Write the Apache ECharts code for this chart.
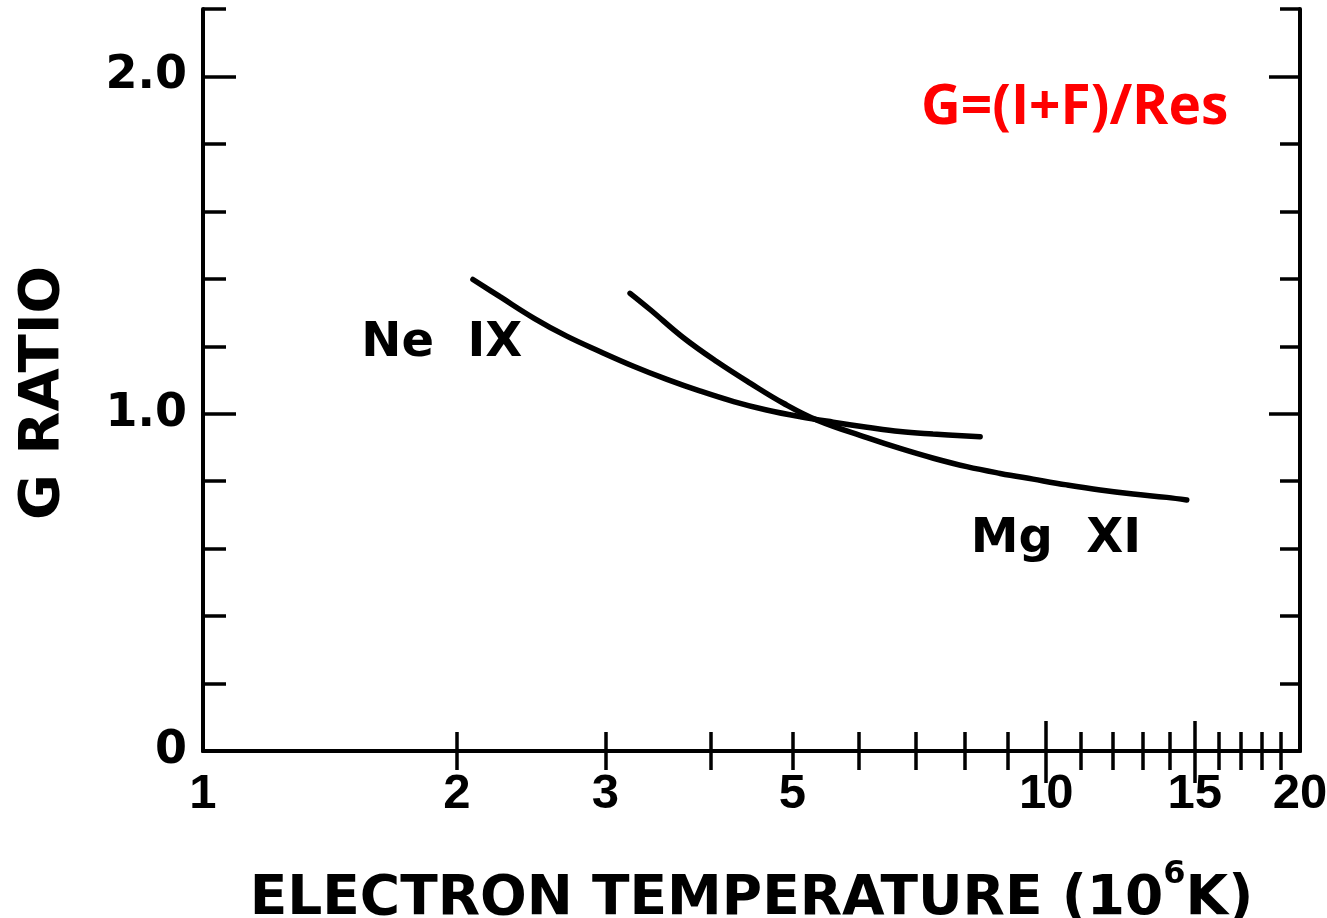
<!DOCTYPE html>
<html>
<head>
<meta charset="utf-8">
<title>G ratio vs electron temperature</title>
<script src="https://cdn.jsdelivr.net/npm/echarts@6/dist/echarts.min.js"></script>
<style>
  html, body { margin: 0; padding: 0; background: #ffffff; }
  #chart { width: 1327px; height: 918px; }
</style>
</head>
<body>
<div id="chart"></div>
<script>
// Electron temperature in units of 10^6 K, G ratio
const neTemp = [2.09, 2.25, 2.47, 2.70, 2.96, 3.24, 3.55, 3.89, 4.26, 4.66, 5.11, 5.59, 6.13, 6.71, 7.34, 8.35];
const neG    = [1.398, 1.347, 1.283, 1.230, 1.184, 1.141, 1.102, 1.067, 1.036, 1.011, 0.991, 0.975, 0.960, 0.947, 0.940, 0.932];

const mgTemp = [3.21, 3.39, 3.71, 4.07, 4.46, 4.88, 5.35, 6.13, 6.71, 7.35, 8.05, 8.82, 9.65, 10.58, 11.59, 12.68, 13.90, 14.68];
const mgG    = [1.357, 1.309, 1.226, 1.154, 1.090, 1.031, 0.981, 0.929, 0.897, 0.868, 0.843, 0.823, 0.806, 0.789, 0.774, 0.762, 0.752, 0.744];

// Axis ticks and labels
const xLabelValues = [1, 2, 3, 5, 10, 15, 20];
const xMinorTicks  = [2, 3, 4, 5, 6, 7, 8, 9, 11, 12, 13, 14, 16, 17, 18, 19];
const xMajorTicks  = [10, 15];
const yLabelValues = [0, 1, 2];
const yMajorTicks  = [1, 2];

// Curve labels placed in data coordinates
const neLabel = { text: 'Ne  IX', temp: 1.92, g: 1.208 };
const mgLabel = { text: 'Mg  XI', temp: 10.27, g: 0.626 };
const formulaText = 'G=(I+F)/Res';

const FONT = 'DejaVu Sans';
const INK = '#000000';

const toPairs = (xs, ys) => xs.map((x, i) => [x, ys[i]]);

const chart = echarts.init(document.getElementById('chart'), null, { renderer: 'canvas' });

const baseX = {
  type: 'log', logBase: 10, min: 1, max: 20,
  splitLine: { show: false }, minorTick: { show: false }
};
const baseY = {
  type: 'value', min: 0, max: 2.2, interval: 0.2,
  splitLine: { show: false }
};
const axisLineStyle = { show: true, lineStyle: { color: INK, width: 4 } };
const tickStyle = { color: INK, width: 3.5 };

const curveLabel = (lbl) => ({
  symbol: 'circle', symbolSize: 0, silent: true,
  label: { show: true, position: 'inside', formatter: lbl.text,
           fontFamily: FONT, fontWeight: 'bold', fontSize: 48, color: INK },
  data: [{ coord: [lbl.temp, lbl.g] }]
});

const option = {
  backgroundColor: '#ffffff',
  animation: false,
  title: {
    text: formulaText,
    left: 916, top: 76,
    textStyle: { fontFamily: 'Open Sans', fontWeight: 'bold', fontSize: 55, color: '#ff0000' }
  },
  grid: { left: 203, right: 27, top: 9, bottom: 167, containLabel: false, outerBoundsMode: 'none' },
  xAxis: [
    Object.assign({}, baseX, {
      position: 'bottom',
      axisLine: axisLineStyle,
      axisTick: { show: true, inside: true, length: 19, customValues: xMinorTicks, lineStyle: tickStyle },
      axisLabel: {
        show: true, customValues: xLabelValues, margin: 19,
        formatter: v => String(Math.round(v)),
        fontFamily: 'Liberation Sans', fontWeight: 'bold', fontSize: 49, color: INK
      },
      name: 'ELECTRON TEMPERATURE (10{sup|6}K)',
      nameLocation: 'middle', nameGap: 108,
      nameTextStyle: {
        fontFamily: FONT, fontWeight: 'bold', fontSize: 55, color: INK,
        rich: {
          sup: { fontFamily: FONT, fontWeight: 'bold', fontSize: 32, color: INK,
                 verticalAlign: 'bottom', padding: [0, 0, 50, 0] }
        }
      }
    }),
    Object.assign({}, baseX, {
      position: 'bottom',
      axisLine: { show: false },
      axisTick: { show: true, inside: true, length: 30, customValues: xMajorTicks, lineStyle: tickStyle },
      axisLabel: { show: false }
    }),
    Object.assign({}, baseX, {
      position: 'top',
      axisLine: axisLineStyle,
      axisTick: { show: true, inside: true, length: 19, customValues: xMinorTicks, lineStyle: tickStyle },
      axisLabel: { show: false }
    }),
    Object.assign({}, baseX, {
      position: 'top',
      axisLine: { show: false },
      axisTick: { show: true, inside: true, length: 32, customValues: xMajorTicks, lineStyle: tickStyle },
      axisLabel: { show: false }
    })
  ],
  yAxis: [
    Object.assign({}, baseY, {
      position: 'left',
      axisLine: axisLineStyle,
      axisTick: { show: true, inside: true, length: 23, lineStyle: tickStyle },
      axisLabel: {
        show: true, customValues: yLabelValues, margin: 16,
        formatter: v => (v === 0 ? '0' : v.toFixed(1)),
        fontFamily: FONT, fontWeight: 'bold', fontSize: 46, color: INK
      },
      name: 'G RATIO',
      nameLocation: 'middle', nameGap: 132, nameRotate: 90,
      nameTextStyle: { fontFamily: FONT, fontWeight: 'bold', fontSize: 56, color: INK, padding: [0, 26, 0, 0] }
    }),
    Object.assign({}, baseY, {
      position: 'left',
      axisLine: { show: false },
      axisTick: { show: true, inside: true, length: 33, customValues: yMajorTicks, lineStyle: tickStyle },
      axisLabel: { show: false }
    }),
    Object.assign({}, baseY, {
      position: 'right',
      axisLine: axisLineStyle,
      axisTick: { show: true, inside: true, length: 20, lineStyle: tickStyle },
      axisLabel: { show: false }
    }),
    Object.assign({}, baseY, {
      position: 'right',
      axisLine: { show: false },
      axisTick: { show: true, inside: true, length: 31, customValues: yMajorTicks, lineStyle: tickStyle },
      axisLabel: { show: false }
    })
  ],
  series: [
    {
      name: 'Ne IX', type: 'line', xAxisIndex: 0, yAxisIndex: 0,
      data: toPairs(neTemp, neG), smooth: 0.4, symbol: 'none',
      lineStyle: { color: INK, width: 5.5, cap: 'round' },
      markPoint: curveLabel(neLabel)
    },
    {
      name: 'Mg XI', type: 'line', xAxisIndex: 0, yAxisIndex: 0,
      data: toPairs(mgTemp, mgG), smooth: 0.4, symbol: 'none',
      lineStyle: { color: INK, width: 5.5, cap: 'round' },
      markPoint: curveLabel(mgLabel)
    }
  ]
};

chart.setOption(option);
</script>
</body>
</html>
